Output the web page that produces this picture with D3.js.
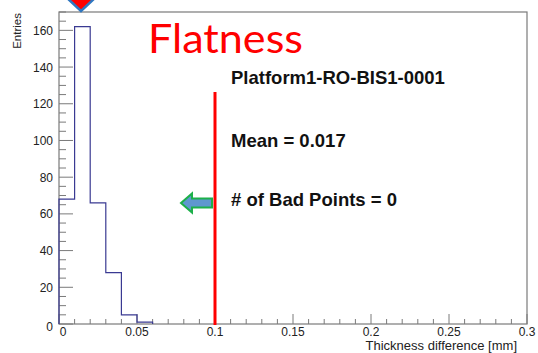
<!DOCTYPE html>
<html>
<head>
<meta charset="utf-8">
<script src="https://cdn.jsdelivr.net/npm/d3@7"></script>
<style>
  body { margin: 0; background: white; }
  svg { display: block; font-family: "Liberation Sans", Arial, sans-serif; }
</style>
</head>
<body>
<svg id="chart"></svg>
<script>
// histogram: bin low edges and entries (bin width 0.01 mm)
const binStarts = [0, 0.01, 0.02, 0.03, 0.04, 0.05];
const binCounts = [68, 162, 66, 28, 5, 1];
const binWidth = 0.01;

const xMajor = [0, 0.05, 0.1, 0.15, 0.2, 0.25, 0.3];
const xLabels = ["0", "0.05", "0.1", "0.15", "0.2", "0.25", "0.3"];
const yMajor = [0, 20, 40, 60, 80, 100, 120, 140, 160];

const infoLines = ["Platform1-RO-BIS1-0001", "Mean = 0.017", "# of Bad Points = 0"];
const cutValue = 0.1;

const W = 538, H = 353;
const svg = d3.select("#chart").attr("width", W).attr("height", H);

const frame = {left: 59, right: 527, top: 12, bottom: 324};
const x = d3.scaleLinear().domain([0, 0.3]).range([frame.left, frame.right]);
const y = d3.scaleLinear().domain([0, 170]).range([frame.bottom, frame.top]);

const axisColor = "#7a7a7a";

// frame
svg.append("rect")
  .attr("x", frame.left).attr("y", frame.top)
  .attr("width", frame.right - frame.left).attr("height", frame.bottom - frame.top)
  .attr("fill", "none").attr("stroke", axisColor).attr("stroke-width", 1.2);

// x ticks (inside, pointing up)
const xt = svg.append("g");
x.ticks(30).forEach(v => {
  const major = xMajor.some(m => Math.abs(m - v) < 1e-9);
  xt.append("line")
    .attr("x1", x(v)).attr("x2", x(v))
    .attr("y1", frame.bottom).attr("y2", frame.bottom - (major ? 10 : 5))
    .attr("stroke", axisColor).attr("stroke-width", 1);
});
xMajor.forEach((v, i) => {
  xt.append("text")
    .attr("x", x(v) + (i === 0 ? 4 : 0)).attr("y", 336)
    .attr("text-anchor", "middle").attr("font-size", 12).attr("fill", "#222")
    .text(xLabels[i]);
});

// y ticks (inside, pointing right)
const yt = svg.append("g");
d3.range(0, 171, 5).forEach(v => {
  const major = v % 20 === 0;
  yt.append("line")
    .attr("x1", frame.left).attr("x2", frame.left + (major ? 14 : 7))
    .attr("y1", y(v)).attr("y2", y(v))
    .attr("stroke", axisColor).attr("stroke-width", 1);
});
yMajor.forEach(v => {
  yt.append("text")
    .attr("x", 53).attr("y", y(v) + (v === 0 ? 7 : 4.5))
    .attr("text-anchor", "end").attr("font-size", 12).attr("fill", "#222")
    .text(v);
});

// axis titles
svg.append("text")
  .attr("transform", "translate(21,13) rotate(-90)")
  .attr("text-anchor", "end").attr("font-size", 11.5).attr("fill", "#222")
  .text("Entries");
svg.append("text")
  .attr("x", 517).attr("y", 350)
  .attr("text-anchor", "end").attr("font-size", 13).attr("fill", "#222")
  .text("Thickness difference [mm]");

// histogram outline
const pts = [[0, 0]];
binStarts.forEach((b, i) => pts.push([b, binCounts[i]]));
pts.push([binStarts[binStarts.length - 1] + binWidth, 0]);
const step = d3.line()
  .x(d => x(d[0])).y(d => y(d[1]))
  .curve(d3.curveStepAfter);
svg.append("path")
  .attr("d", step(pts))
  .attr("fill", "none").attr("stroke", "#3a3a92").attr("stroke-width", 1.2);

// cut line
svg.append("line")
  .attr("x1", x(cutValue)).attr("x2", x(cutValue))
  .attr("y1", 92).attr("y2", frame.bottom + 1)
  .attr("stroke", "#ff0000").attr("stroke-width", 3);

// title
svg.append("text")
  .attr("x", 148).attr("y", 53)
  .attr("font-family", "Lato, 'Open Sans', sans-serif")
  .attr("font-size", 40).attr("fill", "#ff0000")
  .attr("textLength", 155).attr("lengthAdjust", "spacingAndGlyphs")
  .text("Flatness");

// info text
const infoY = [84, 147, 206];
infoLines.forEach((t, i) => {
  svg.append("text")
    .attr("x", 231).attr("y", infoY[i])
    .attr("font-size", 18.5).attr("font-weight", "bold").attr("fill", "#111")
    .text(t);
});

// left-pointing arrow
svg.append("path")
  .attr("d", "M181,203 L192,193.5 L192,198.5 L212,198.5 L212,207.5 L192,207.5 L192,212.5 Z")
  .attr("fill", "#5f97cf").attr("stroke", "#1db04a").attr("stroke-width", 2)
  .attr("stroke-linejoin", "miter");

// marker triangle at top
svg.append("path")
  .attr("d", "M66,-3 L96,-3 L81,11 Z")
  .attr("fill", "#ff0000").attr("stroke", "#2f77c0").attr("stroke-width", 2.5);
</script>
</body>
</html>
